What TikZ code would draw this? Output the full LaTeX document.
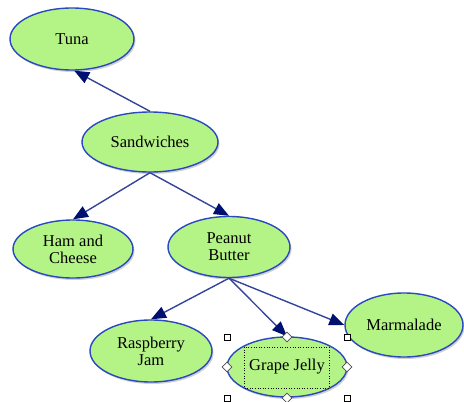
\documentclass[tikz,border=0pt]{standalone}
\usepackage{fontspec}
\setmainfont{Liberation Serif}
\usetikzlibrary{shapes.geometric,arrows.meta,shadows}
\definecolor{nodefill}{HTML}{B4F486}
\definecolor{nodeline}{HTML}{2A48C0}
\definecolor{edgeline}{HTML}{34449A}
\definecolor{tipfill}{HTML}{001070}
\tikzset{
  topic/.style={ellipse, draw=nodeline, fill=nodefill, line width=1.4pt,
    inner sep=0pt, align=center, font=\fontsize{16.5}{17}\selectfont,
    drop shadow={shadow xshift=1.5pt, shadow yshift=-2pt, opacity=0.3, fill=black!60}},
  link/.style={draw=edgeline, line width=1.4pt,
    -{Triangle[length=15pt,width=12pt,color=tipfill,fill=tipfill]}},
  sqhandle/.style={rectangle, draw=black, fill=white, line width=0.8pt,
    minimum size=6pt, inner sep=0pt},
  dmhandle/.style={diamond, draw=black!70, fill=white, line width=0.6pt,
    minimum size=10pt, inner sep=0pt}
}
\begin{document}
\begin{tikzpicture}[x=1pt,y=-1pt]
\useasboundingbox (0,0) rectangle (464,402);
\node[topic, minimum width=124pt, minimum height=62pt] (tuna) at (72,39) {Tuna};
\node[topic, minimum width=136pt, minimum height=60pt] (sw) at (150,142) {Sandwiches};
\node[topic, minimum width=120pt, minimum height=58pt] (ham) at (73,249) {Ham and\\Cheese};
\node[topic, minimum width=122pt, minimum height=61pt] (pb) at (229,247) {Peanut\\Butter};
\node[topic, minimum width=122pt, minimum height=62pt] (rasp) at (151,351) {Raspberry\\Jam};
\node[topic, minimum width=120pt, minimum height=60pt] (grape) at (287,367) {Grape Jelly};
\node[topic, minimum width=118pt, minimum height=64pt] (marm) at (404,325) {Marmalade};

\draw[link] (sw.north) -- (tuna.-86);
\draw[link] (sw.south) -- (ham.north);
\draw[link] (sw.south) -- (pb.north);
\draw[link] (pb.south) -- (rasp.north);
\draw[link] (pb.south) -- (grape.north);
\draw[link] (pb.south) -- (marm.west);

\draw[black, line width=0.6pt, dotted] (244,347) rectangle (329,388);
\node[sqhandle] (h1) at (227,337) {};
\node[sqhandle] (h2) at (347,337) {};
\node[sqhandle] (h3) at (227,398) {};
\node[sqhandle] (h4) at (347,398) {};
\node[dmhandle] (d1) at (287,337) {};
\node[dmhandle] (d2) at (227,367) {};
\node[dmhandle] (d3) at (347,367) {};
\node[dmhandle] (d4) at (287,398) {};
\end{tikzpicture}
\end{document}
